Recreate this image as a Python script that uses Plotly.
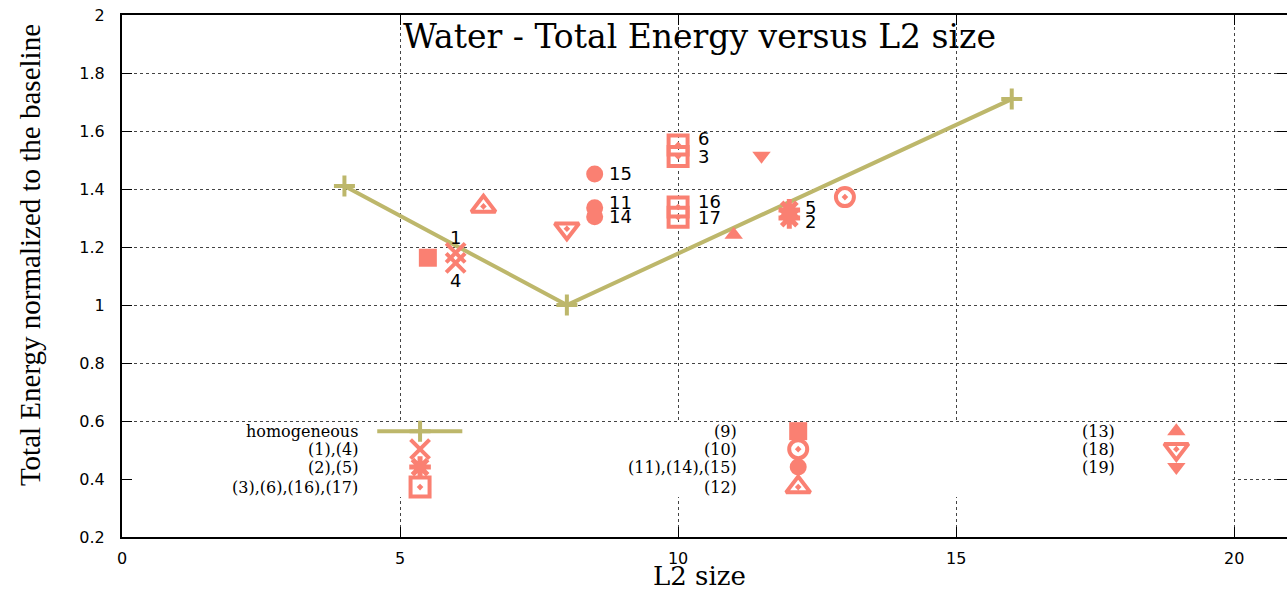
import plotly.graph_objects as go

# ---- data -------------------------------------------------------------
# Homogeneous cache configurations
homog_l2 = [4, 8, 16]
homog_energy = [1.41, 1.00, 1.71]

# Heterogeneous configurations (id, L2 size, normalized total energy)
cfg_ids = ["1", "4", "2", "5", "3", "6", "16", "17",
           "9", "10", "11", "14", "15", "12", "13", "18", "19"]
cfg_l2 = [6, 6, 12, 12, 10, 10, 10, 10,
          5.5, 13, 8.5, 8.5, 8.5, 6.5, 11, 8, 11.5]
cfg_energy = [1.18, 1.145, 1.30, 1.328, 1.512, 1.552, 1.338, 1.303,
              1.163, 1.372, 1.335, 1.304, 1.452, 1.340, 1.242, 1.263, 1.515]

# Legend groups: key text and the configuration ids they cover
group_names = ["(1),(4)", "(2),(5)", "(3),(6),(16),(17)",
               "(9)", "(10)", "(11),(14),(15)", "(12)",
               "(13)", "(18)", "(19)"]
group_members = [["1", "4"], ["2", "5"], ["3", "6", "16", "17"],
                 ["9"], ["10"], ["11", "14", "15"], ["12"],
                 ["13"], ["18"], ["19"]]

# Configuration ids that carry a text label next to the marker
labelled_ids = ["1", "4", "2", "5", "3", "6", "16", "17", "11", "14", "15"]

# ---- styling ----------------------------------------------------------
SALMON = "#FA8072"
KHAKI = "#BDB76B"
SERIF = "Liberation Serif"
WIDE_SERIF = "DejaVu Serif"
SANS = "DejaVu Sans"


def open_marker(symbol, size, width):
    return dict(symbol=symbol, size=size, color=SALMON, line=dict(color=SALMON, width=width))


def solid_marker(symbol, size):
    return dict(symbol=symbol, size=size, color=SALMON, line=dict(width=0))


group_style = {
    "(1),(4)": open_marker("x-thin-open", 19, 4),
    "(2),(5)": open_marker("asterisk-open", 18, 5),
    "(3),(6),(16),(17)": open_marker("square-open-dot", 19, 4),
    "(9)": solid_marker("square", 18),
    "(10)": open_marker("circle-open-dot", 18, 4),
    "(11),(14),(15)": solid_marker("circle", 17),
    "(12)": open_marker("triangle-up-open-dot", 21, 4),
    "(13)": solid_marker("triangle-up", 16),
    "(18)": open_marker("triangle-down-open-dot", 21, 4),
    "(19)": solid_marker("triangle-down", 16),
}
homog_marker = dict(symbol="cross-thin-open", size=15, color=KHAKI, line=dict(color=KHAKI, width=4))

# pixel offsets (dx, dy, anchor) of point labels relative to their marker
label_offset = {
    "1": (0, 15, "center"), "4": (0, -18, "center"),
    "5": (14, 2, "left"), "2": (14, -3, "left"),
    "6": (18, 6, "left"), "3": (18, 0, "left"),
    "16": (18, 5, "left"), "17": (18, 0, "left"),
    "11": (12, 5, "left"), "14": (12, 0, "left"), "15": (12, 0, "left"),
}

# key layout (data units): three columns, text right-aligned left of sample
key_rows = [0.565, 0.503, 0.441, 0.372]
key_columns = [
    dict(text_x=4.28, sample_x=5.36, entries=["homogeneous", "(1),(4)", "(2),(5)", "(3),(6),(16),(17)"]),
    dict(text_x=11.1, sample_x=12.16, entries=["(9)", "(10)", "(11),(14),(15)", "(12)"]),
    dict(text_x=17.9, sample_x=18.96, entries=["(13)", "(18)", "(19)"]),
]
homog_key_span = (4.59, 6.12)

X_RANGE = [0, 20.95]
Y_RANGE = [0.2, 2.0]
Y_TICKS = [0.2, 0.4, 0.6, 0.8, 1.0, 1.2, 1.4, 1.6, 1.8, 2.0]

fig = go.Figure()

# homogeneous line
fig.add_trace(go.Scatter(
    x=homog_l2, y=homog_energy, mode="lines+markers",
    line=dict(color=KHAKI, width=4), marker=homog_marker,
    showlegend=False, hoverinfo="skip"))

# heterogeneous configurations, one trace per group
lookup = {cid: (x, y) for cid, x, y in zip(cfg_ids, cfg_l2, cfg_energy)}
for name, members in zip(group_names, group_members):
    fig.add_trace(go.Scatter(
        x=[lookup[m][0] for m in members],
        y=[lookup[m][1] for m in members],
        mode="markers", marker=group_style[name],
        name=name, showlegend=False))

annotations = []
for cid in labelled_ids:
    x, y = lookup[cid]
    dx, dy, anchor = label_offset[cid]
    annotations.append(dict(
        x=x, y=y, xref="x", yref="y", text=cid, showarrow=False,
        xanchor=anchor, yanchor="middle", xshift=dx, yshift=dy,
        font=dict(family=SANS, size=18, color="black")))

# key box background hides the grid behind it
shapes = [dict(type="rect", xref="x", yref="y", x0=0.05, x1=19.97, y0=0.338, y1=0.593,
               fillcolor="white", line=dict(width=0), layer="between")]

# key entries
for col in key_columns:
    for row_y, entry in zip(key_rows, col["entries"]):
        annotations.append(dict(
            x=col["text_x"], y=row_y, xref="x", yref="y", text=entry, showarrow=False,
            xanchor="right", yanchor="middle",
            font=dict(family=WIDE_SERIF, size=16, color="black")))
        if entry == "homogeneous":
            fig.add_trace(go.Scatter(
                x=list(homog_key_span), y=[row_y, row_y], mode="lines",
                line=dict(color=KHAKI, width=4), showlegend=False, hoverinfo="skip"))
            fig.add_trace(go.Scatter(
                x=[col["sample_x"]], y=[row_y], mode="markers",
                marker=homog_marker, showlegend=False, hoverinfo="skip"))
        else:
            fig.add_trace(go.Scatter(
                x=[col["sample_x"]], y=[row_y], mode="markers",
                marker=group_style[entry], showlegend=False, hoverinfo="skip"))

# invisible trace to anchor the right-hand tick axis
fig.add_trace(go.Scatter(x=[None], y=[None], yaxis="y2", showlegend=False, hoverinfo="skip"))

# title (inside the frame) and axis titles
annotations.append(dict(
    x=0.496, y=0.958, xref="paper", yref="paper", text="Water - Total Energy versus L2 size",
    showarrow=False, xanchor="center", yanchor="middle",
    font=dict(family=WIDE_SERIF, size=33, color="black")))
annotations.append(dict(
    x=0.496, y=-0.075, xref="paper", yref="paper", text="L2 size",
    showarrow=False, xanchor="center", yanchor="middle",
    font=dict(family=WIDE_SERIF, size=26, color="black")))
annotations.append(dict(
    x=-0.079, y=0.54, xref="paper", yref="paper", text="Total Energy normalized to the baseline",
    showarrow=False, xanchor="center", yanchor="middle", textangle=-90,
    font=dict(family=SERIF, size=29, color="black")))

grid = dict(showgrid=True, gridcolor="#444444", griddash="dot", gridwidth=1)

fig.update_layout(
    width=1287, height=590,
    margin=dict(l=122, r=0, t=15, b=53),
    paper_bgcolor="white", plot_bgcolor="white",
    showlegend=False,
    annotations=annotations, shapes=shapes,
    xaxis=dict(range=X_RANGE, tickvals=[0, 5, 10, 15, 20], ticks="inside", ticklen=10,
               tickcolor="black", showline=True, linecolor="black", linewidth=2,
               mirror="ticks", zeroline=False, ticklabelstandoff=6,
               tickfont=dict(family=SANS, size=16, color="black"), **grid),
    yaxis=dict(range=Y_RANGE, tickvals=Y_TICKS,
               ticktext=["0.2", "0.4", "0.6", "0.8", "1", "1.2", "1.4", "1.6", "1.8", "2"],
               ticks="inside", ticklen=10, tickcolor="black",
               showline=True, linecolor="black", linewidth=2, mirror=False,
               zeroline=False, ticklabelstandoff=12,
               tickfont=dict(family=SANS, size=16, color="black"), **grid),
    yaxis2=dict(range=Y_RANGE, overlaying="y", side="right", tickvals=Y_TICKS,
                ticks="inside", ticklen=10, tickcolor="black", showticklabels=False,
                showline=False, showgrid=False, zeroline=False),
)

fig.write_html("out.html")
